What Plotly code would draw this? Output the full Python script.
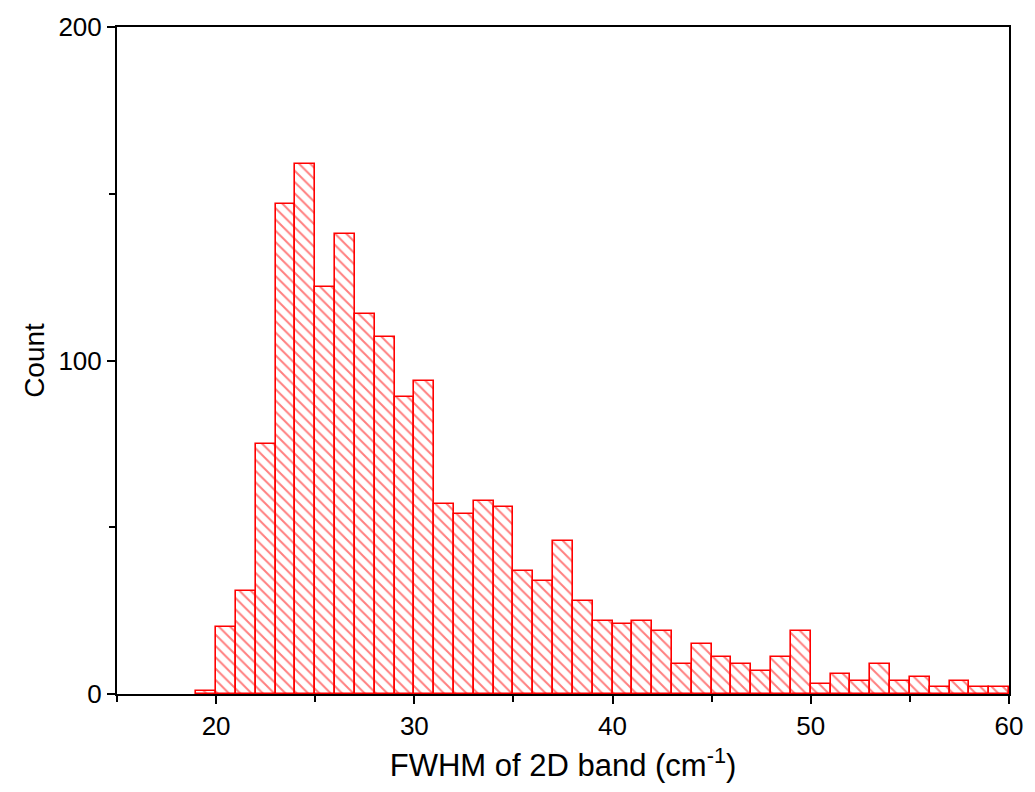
import plotly.graph_objects as go

bin_left = list(range(19, 60))
counts = [1, 20, 31, 75, 147, 159, 122, 138, 114, 107, 89, 94, 57, 54, 58, 56,
          37, 34, 46, 28, 22, 21, 22, 19, 9, 15, 11, 9, 7, 11, 19, 3, 6, 4, 9,
          4, 5, 2, 4, 2, 2]
bin_width = 1.0
x_title = "FWHM of 2D band (cm<sup>-1</sup>)"
y_title = "Count"

centers = [b + bin_width / 2 for b in bin_left]

fig = go.Figure(go.Bar(
    x=centers, y=counts, width=[bin_width] * len(centers),
    marker=dict(color="white",
                line=dict(color="#ff0000", width=1.6),
                pattern=dict(shape="\\", fgcolor="#ff0000", bgcolor="white",
                             size=8, solidity=0.25)),
))

font = "Liberation Sans, Arial, sans-serif"
fig.update_layout(
    width=1035, height=792,
    margin=dict(l=117, r=20, t=25, b=98),
    paper_bgcolor="white", plot_bgcolor="white",
    bargap=0, showlegend=False,
    font=dict(family=font, color="black", size=26),
)
fig.update_xaxes(
    range=[15, 60], tick0=20, dtick=10, ticks="outside", ticklen=8, tickwidth=1.5,
    tickcolor="black", showline=True, linecolor="black", linewidth=2, mirror=True,
    showgrid=False, zeroline=False, tickfont=dict(size=26),
    minor=dict(tick0=15, dtick=5, ticks="outside", ticklen=6, tickwidth=1.5,
               tickcolor="black", showgrid=False),
    title=dict(text=x_title, font=dict(size=31), standoff=14),
)
fig.update_yaxes(
    range=[0, 200], dtick=100, ticks="outside", ticklen=8, tickwidth=1.5,
    tickcolor="black", showline=True, linecolor="black", linewidth=2, mirror=True,
    showgrid=False, zeroline=False, tickfont=dict(size=26),
    minor=dict(dtick=50, ticks="outside", ticklen=6, tickwidth=1.5,
               tickcolor="black", showgrid=False),
    title=dict(text=y_title, font=dict(size=28), standoff=6),
)

fig.write_html("out.html")
